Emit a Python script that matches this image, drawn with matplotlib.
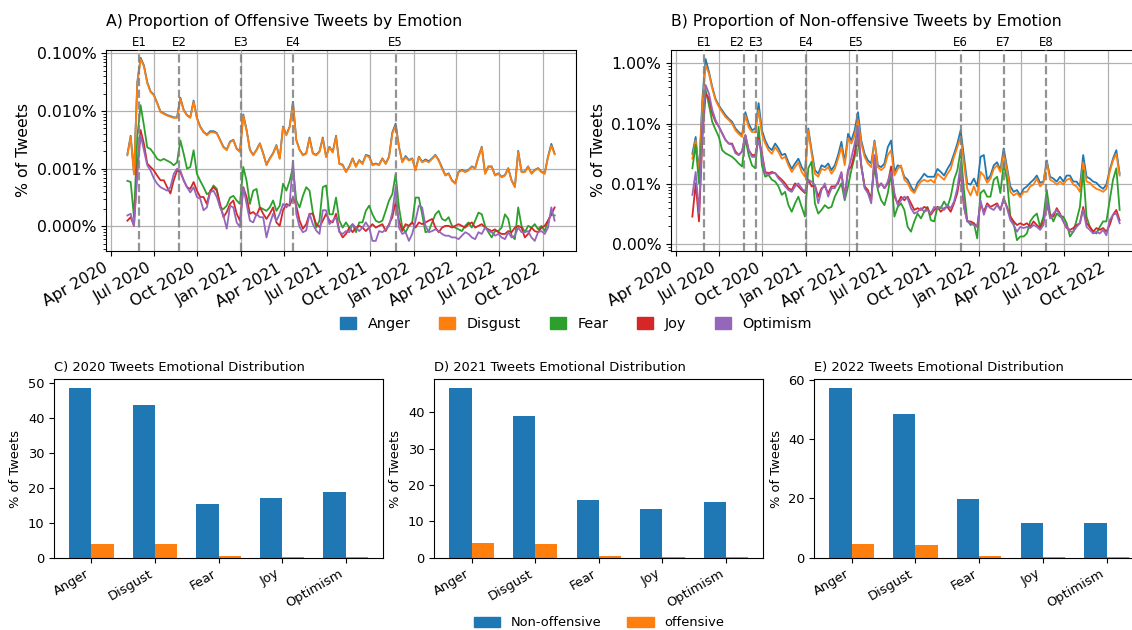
import numpy as np
import pandas as pd
import matplotlib
matplotlib.use("Agg")
import matplotlib.pyplot as plt
import matplotlib.dates as mdates
from matplotlib.ticker import FuncFormatter, NullFormatter
from matplotlib.patches import Patch

# ---------------------------------------------------------------- data
# Weekly samples of the smoothed daily share of tweets per emotion,
# stored as log10(percent of all tweets).
dates = pd.date_range("2020-05-06", periods=130, freq="7D")

emotions = ["Anger", "Disgust", "Fear", "Joy", "Optimism"]
colors = ["tab:blue", "tab:orange", "tab:green", "tab:red", "tab:purple"]

off_anger = [
    -2.75, -2.43, -3.08, -1.50, -1.08, -1.21, -1.50, -1.66, -1.72, -1.86,
    -2.01, -2.04, -2.07, -2.09, -2.11, -2.11, -1.77, -1.98, -2.07, -2.11,
    -1.82, -2.12, -2.27, -2.36, -2.41, -2.35, -2.35, -2.38, -2.50, -2.62,
    -2.67, -2.53, -2.50, -2.65, -2.70, -2.06, -2.33, -2.67, -2.76, -2.67,
    -2.56, -2.73, -2.93, -2.82, -2.73, -2.59, -2.82, -2.27, -2.41, -2.27,
    -1.84, -2.50, -2.67, -2.76, -2.73, -2.46, -2.73, -2.76, -2.70, -2.46,
    -2.79, -2.62, -2.71, -2.43, -2.91, -2.93, -3.05, -2.96, -2.82, -2.96,
    -2.85, -2.91, -2.76, -2.78, -2.93, -2.91, -2.93, -2.82, -2.91, -2.79,
    -2.37, -2.22, -2.62, -2.88, -2.78, -2.85, -2.82, -3.02, -2.79, -2.88,
    -2.84, -2.87, -2.82, -2.76, -2.85, -2.98, -3.11, -3.08, -3.20, -3.25,
    -3.05, -3.02, -3.05, -3.02, -2.96, -2.99, -2.79, -2.62, -3.08, -2.96,
    -2.96, -3.11, -3.08, -3.14, -3.11, -2.99, -3.20, -3.31, -2.69, -3.05,
    -3.05, -2.96, -3.08, -3.02, -2.99, -3.05, -3.08, -2.79, -2.57, -2.74,
]
off_disgust = [
    -2.77, -2.45, -3.10, -1.52, -1.10, -1.23, -1.52, -1.67, -1.73, -1.87,
    -2.02, -2.05, -2.08, -2.10, -2.12, -2.12, -1.79, -1.99, -2.08, -2.12,
    -1.84, -2.13, -2.28, -2.37, -2.42, -2.37, -2.37, -2.39, -2.51, -2.63,
    -2.68, -2.54, -2.51, -2.66, -2.71, -2.08, -2.34, -2.68, -2.77, -2.68,
    -2.57, -2.74, -2.94, -2.83, -2.74, -2.60, -2.83, -2.28, -2.42, -2.28,
    -1.87, -2.51, -2.68, -2.77, -2.74, -2.48, -2.74, -2.77, -2.71, -2.48,
    -2.80, -2.63, -2.72, -2.45, -2.92, -2.94, -3.06, -2.97, -2.83, -2.97,
    -2.86, -2.92, -2.77, -2.80, -2.94, -2.92, -2.94, -2.83, -2.92, -2.80,
    -2.39, -2.25, -2.63, -2.89, -2.80, -2.86, -2.83, -3.03, -2.80, -2.89,
    -2.86, -2.89, -2.83, -2.77, -2.86, -3.00, -3.12, -3.09, -3.21, -3.26,
    -3.06, -3.03, -3.06, -3.03, -2.97, -3.00, -2.80, -2.63, -3.09, -2.97,
    -2.97, -3.12, -3.09, -3.15, -3.12, -3.00, -3.21, -3.32, -2.71, -3.06,
    -3.06, -2.97, -3.09, -3.03, -3.00, -3.06, -3.09, -2.80, -2.60, -2.75,
]
off_fear = [
    -3.21, -3.23, -3.84, -2.45, -1.90, -2.25, -2.63, -2.66, -2.74, -2.83,
    -2.86, -2.83, -2.86, -2.89, -2.94, -2.89, -2.51, -2.74, -3.00, -2.97,
    -2.68, -3.09, -3.21, -3.32, -3.44, -3.41, -3.29, -3.35, -3.67, -3.70,
    -3.64, -3.50, -3.47, -3.55, -3.61, -2.97, -3.21, -3.61, -3.38, -3.35,
    -3.67, -3.70, -3.73, -3.67, -3.55, -3.73, -3.64, -3.26, -3.38, -3.21,
    -2.97, -3.55, -3.67, -3.47, -3.32, -3.38, -3.76, -4.02, -3.90, -3.32,
    -3.29, -3.79, -3.79, -3.50, -3.90, -4.02, -3.93, -4.02, -3.96, -4.10,
    -3.93, -3.93, -3.73, -3.64, -3.79, -3.90, -3.93, -3.90, -3.73, -3.55,
    -3.44, -3.09, -3.67, -4.02, -4.10, -3.99, -3.93, -3.50, -3.50, -3.79,
    -4.10, -4.08, -3.93, -3.79, -3.73, -3.87, -3.90, -3.84, -3.99, -4.02,
    -4.05, -4.08, -3.99, -3.93, -4.02, -3.90, -3.76, -3.79, -3.99, -4.10,
    -4.19, -4.08, -4.08, -4.02, -3.79, -3.87, -4.16, -4.22, -3.67, -3.99,
    -4.10, -3.99, -4.02, -3.96, -4.05, -3.99, -4.08, -3.90, -3.79, -3.81,
]
off_joy = [
    -3.90, -3.84, -3.99, -2.97, -2.33, -2.57, -2.91, -2.97, -3.03, -3.12,
    -3.20, -3.20, -3.32, -3.43, -3.20, -3.03, -3.06, -3.20, -3.32, -3.35,
    -3.23, -3.38, -3.49, -3.49, -3.61, -3.38, -3.32, -3.38, -3.61, -3.84,
    -3.75, -3.61, -3.55, -3.78, -3.90, -3.32, -3.49, -3.78, -3.75, -3.81,
    -3.67, -3.78, -3.87, -3.78, -3.67, -3.93, -3.99, -3.72, -3.61, -3.64,
    -3.49, -3.64, -3.90, -4.04, -3.96, -3.78, -3.78, -3.96, -4.01, -3.90,
    -3.78, -3.90, -3.93, -3.78, -4.08, -4.19, -4.13, -4.02, -4.10, -4.02,
    -3.99, -4.02, -4.08, -4.02, -3.96, -4.02, -3.99, -3.96, -4.08, -3.96,
    -3.84, -3.58, -3.90, -4.08, -3.96, -3.99, -3.93, -4.02, -3.93, -3.96,
    -3.93, -3.90, -3.87, -4.02, -4.10, -4.02, -3.99, -3.99, -4.02, -3.99,
    -3.96, -3.99, -4.02, -3.96, -3.93, -4.02, -3.99, -3.96, -4.02, -4.05,
    -4.08, -4.05, -4.10, -4.13, -4.13, -4.08, -4.10, -4.02, -3.99, -4.02,
    -4.19, -4.13, -4.02, -4.08, -4.10, -4.02, -3.99, -3.90, -3.79, -3.67,
]
off_optimism = [
    -3.81, -3.78, -3.99, -3.09, -2.42, -2.68, -2.94, -3.03, -3.17, -3.26,
    -3.32, -3.35, -3.38, -3.32, -3.09, -3.00, -3.03, -3.20, -3.32, -3.41,
    -3.32, -3.49, -3.52, -3.72, -3.67, -3.41, -3.38, -3.49, -3.67, -3.81,
    -4.04, -3.64, -3.67, -3.93, -4.01, -3.32, -3.61, -3.90, -3.93, -3.78,
    -3.84, -3.84, -4.19, -3.96, -3.78, -3.90, -3.78, -3.61, -3.67, -3.61,
    -2.86, -3.78, -4.01, -4.10, -4.07, -3.78, -3.96, -4.07, -4.13, -3.72,
    -3.72, -3.96, -3.90, -3.84, -4.10, -4.13, -4.08, -4.10, -3.96, -4.02,
    -4.08, -4.02, -3.93, -4.02, -4.25, -4.25, -4.08, -4.10, -4.05, -3.99,
    -3.76, -3.32, -4.02, -4.13, -4.10, -4.25, -4.13, -3.90, -3.64, -3.67,
    -3.99, -4.10, -4.08, -4.05, -4.08, -4.13, -4.16, -4.16, -4.19, -4.19,
    -4.22, -4.16, -4.10, -4.13, -4.19, -4.22, -4.10, -4.13, -4.02, -4.08,
    -4.10, -4.16, -4.13, -4.19, -4.22, -4.10, -4.19, -4.16, -4.02, -4.10,
    -4.10, -4.08, -4.19, -4.25, -4.10, -4.08, -4.13, -4.02, -3.67, -3.90,
]

non_anger = [
    -1.50, -1.22, -1.83, -0.61, 0.07, -0.14, -0.39, -0.59, -0.70, -0.78,
    -0.86, -0.92, -0.97, -1.08, -1.14, -1.19, -0.81, -1.00, -1.11, -1.08,
    -0.66, -1.11, -1.28, -1.39, -1.44, -1.33, -1.41, -1.52, -1.50, -1.64,
    -1.75, -1.66, -1.58, -1.72, -1.80, -1.08, -1.44, -1.77, -1.83, -1.69,
    -1.72, -1.66, -1.77, -1.69, -1.52, -1.30, -1.64, -1.17, -1.28, -1.11,
    -0.81, -1.28, -1.50, -1.61, -1.66, -1.28, -1.69, -1.72, -1.66, -1.39,
    -1.28, -1.80, -1.69, -1.72, -1.88, -1.93, -2.04, -2.13, -1.98, -1.91,
    -1.83, -1.88, -1.88, -1.88, -1.75, -1.80, -1.86, -1.75, -1.66, -1.50,
    -1.33, -1.11, -1.55, -1.99, -2.01, -1.91, -2.04, -1.55, -1.52, -1.93,
    -1.86, -1.69, -1.64, -1.77, -1.41, -1.72, -2.04, -2.13, -2.10, -2.19,
    -2.08, -2.04, -1.98, -1.93, -1.86, -1.98, -1.96, -1.61, -1.88, -1.91,
    -1.96, -1.88, -1.96, -1.86, -1.86, -1.96, -1.96, -2.04, -1.52, -1.88,
    -1.91, -1.96, -1.98, -2.04, -2.08, -2.01, -1.77, -1.58, -1.44, -1.83,
]
non_disgust = [
    -1.58, -1.28, -1.86, -0.72, -0.03, -0.17, -0.42, -0.61, -0.72, -0.81,
    -0.89, -0.94, -1.00, -1.11, -1.17, -1.22, -0.86, -1.06, -1.14, -1.14,
    -0.78, -1.17, -1.33, -1.44, -1.50, -1.39, -1.47, -1.58, -1.55, -1.69,
    -1.80, -1.72, -1.64, -1.80, -1.88, -1.11, -1.50, -1.83, -1.88, -1.75,
    -1.77, -1.72, -1.83, -1.75, -1.58, -1.39, -1.69, -1.25, -1.33, -1.19,
    -0.94, -1.33, -1.55, -1.66, -1.72, -1.30, -1.72, -1.77, -1.72, -1.52,
    -1.44, -1.86, -1.75, -1.69, -1.93, -1.98, -2.10, -2.15, -2.04, -1.96,
    -1.93, -1.96, -1.93, -1.98, -1.83, -1.88, -1.93, -1.83, -1.75, -1.55,
    -1.39, -1.22, -1.66, -2.08, -2.19, -2.04, -2.19, -1.80, -1.86, -1.98,
    -1.91, -1.75, -1.69, -1.80, -1.50, -1.77, -2.13, -2.19, -2.15, -2.22,
    -2.13, -2.13, -2.04, -2.01, -1.91, -2.04, -1.98, -1.64, -1.93, -1.96,
    -2.01, -1.96, -2.01, -1.93, -1.91, -2.01, -2.04, -2.13, -1.64, -1.96,
    -1.98, -2.04, -2.08, -2.10, -2.13, -2.08, -1.80, -1.61, -1.50, -1.86,
]
non_fear = [
    -1.74, -1.35, -1.99, -1.05, -0.44, -0.69, -0.97, -1.10, -1.22, -1.44,
    -1.49, -1.52, -1.55, -1.60, -1.66, -1.71, -1.24, -1.52, -1.69, -1.74,
    -1.05, -1.69, -1.88, -1.85, -1.93, -1.96, -2.04, -2.18, -2.13, -2.35,
    -2.46, -2.32, -2.21, -2.38, -2.54, -1.74, -1.63, -2.32, -2.49, -2.43,
    -2.35, -2.40, -2.38, -2.21, -2.10, -1.99, -2.27, -2.04, -1.77, -1.55,
    -1.27, -1.69, -2.04, -2.15, -2.21, -1.71, -2.10, -2.27, -2.35, -2.15,
    -1.82, -2.54, -2.38, -2.32, -2.43, -2.71, -2.79, -2.62, -2.49, -2.57,
    -2.46, -2.38, -2.60, -2.62, -2.38, -2.40, -2.29, -2.38, -2.21, -1.93,
    -1.77, -1.44, -2.10, -2.60, -2.68, -2.65, -2.90, -2.15, -2.10, -2.21,
    -2.21, -1.93, -1.88, -2.15, -1.66, -1.93, -2.54, -2.65, -2.93, -2.87,
    -2.87, -2.82, -2.62, -2.54, -2.49, -2.71, -2.54, -2.10, -2.49, -2.62,
    -2.49, -2.54, -2.54, -2.65, -2.87, -2.79, -2.60, -2.38, -1.77, -2.54,
    -2.71, -2.79, -2.82, -2.71, -2.62, -2.62, -2.27, -1.93, -1.74, -2.43,
]
non_joy = [
    -2.54, -1.99, -2.62, -1.27, -0.50, -0.58, -0.83, -0.97, -1.05, -1.16,
    -1.27, -1.33, -1.33, -1.46, -1.52, -1.46, -1.19, -1.44, -1.52, -1.52,
    -1.24, -1.49, -1.80, -1.82, -1.80, -1.82, -1.88, -1.93, -1.99, -2.07,
    -2.10, -1.99, -2.04, -2.10, -2.15, -1.93, -2.04, -2.02, -2.21, -2.07,
    -2.04, -2.15, -2.04, -2.04, -1.99, -1.82, -2.21, -1.77, -1.71, -1.49,
    -1.10, -1.71, -2.04, -2.10, -2.27, -1.55, -2.04, -1.99, -2.07, -1.99,
    -1.71, -2.21, -2.32, -2.21, -2.27, -2.21, -2.32, -2.43, -2.40, -2.43,
    -2.38, -2.40, -2.51, -2.43, -2.38, -2.46, -2.40, -2.38, -2.46, -2.32,
    -2.15, -1.82, -2.38, -2.62, -2.62, -2.65, -2.71, -2.32, -2.46, -2.32,
    -2.38, -2.35, -2.32, -2.43, -2.24, -2.38, -2.54, -2.62, -2.68, -2.65,
    -2.68, -2.65, -2.71, -2.62, -2.68, -2.73, -2.62, -2.35, -2.51, -2.54,
    -2.40, -2.49, -2.62, -2.73, -2.76, -2.73, -2.68, -2.65, -2.38, -2.65,
    -2.71, -2.79, -2.73, -2.76, -2.73, -2.79, -2.68, -2.51, -2.43, -2.60,
]
non_optimism = [
    -2.18, -1.80, -2.49, -1.16, -0.36, -0.50, -0.77, -0.94, -1.05, -1.16,
    -1.27, -1.33, -1.35, -1.49, -1.52, -1.46, -1.19, -1.44, -1.55, -1.55,
    -1.27, -1.52, -1.82, -1.85, -1.82, -1.82, -1.91, -1.96, -2.04, -2.10,
    -2.13, -2.04, -1.99, -2.07, -2.13, -1.93, -1.96, -2.02, -2.32, -2.10,
    -1.99, -2.21, -2.07, -2.07, -1.96, -1.80, -2.24, -1.77, -1.57, -1.33,
    -1.05, -1.69, -2.07, -2.15, -2.32, -1.52, -2.07, -1.99, -2.07, -1.96,
    -1.80, -2.15, -2.35, -2.27, -2.21, -2.24, -2.40, -2.49, -2.46, -2.40,
    -2.46, -2.43, -2.49, -2.38, -2.40, -2.38, -2.43, -2.35, -2.40, -2.29,
    -2.07, -1.66, -2.38, -2.62, -2.65, -2.68, -2.71, -2.27, -2.51, -2.35,
    -2.40, -2.43, -2.35, -2.43, -2.24, -2.40, -2.60, -2.68, -2.79, -2.71,
    -2.73, -2.71, -2.73, -2.68, -2.71, -2.76, -2.68, -2.27, -2.57, -2.49,
    -2.43, -2.51, -2.62, -2.71, -2.79, -2.79, -2.71, -2.65, -2.43, -2.71,
    -2.76, -2.82, -2.79, -2.82, -2.76, -2.85, -2.60, -2.51, -2.49, -2.65,
]

# Event markers
events_off = ["2020-05-31", "2020-08-24", "2021-01-02", "2021-04-21", "2021-11-24"]
events_non = ["2020-05-31", "2020-08-24", "2020-09-17", "2021-01-01",
              "2021-04-18", "2021-11-24", "2022-02-23", "2022-05-24"]

# Yearly emotional distribution (% of tweets)
non_2020 = [48.7, 43.8, 15.3, 17.0, 18.7]
off_2020 = [3.9, 3.9, 0.5, 0.15, 0.15]
non_2021 = [46.7, 39.0, 15.8, 13.3, 15.2]
off_2021 = [4.0, 3.7, 0.4, 0.15, 0.15]
non_2022 = [57.4, 48.4, 19.8, 11.7, 11.7]
off_2022 = [4.6, 4.3, 0.6, 0.15, 0.15]

# ---------------------------------------------------------------- figure
W, H = 1132, 630
fig = plt.figure(figsize=(W / 100, H / 100), dpi=100)


def px_axes(left, top, right, bottom):
    return fig.add_axes([left / W, 1 - bottom / H, (right - left) / W, (bottom - top) / H])


BIG = 11.3
SMALL = 9.4


def time_panel(ax, series, events, title, decimals, ylog, label_ha=None):
    for name, vals, c in zip(emotions, series, colors):
        ax.plot(dates, 10.0 ** np.asarray(vals), color=c, lw=1.3, label=name)
    ax.set_yscale("log")
    ax.set_ylim(10.0 ** ylog[0], 10.0 ** ylog[1])
    ax.yaxis.set_major_formatter(FuncFormatter(lambda v, p: f"{v:.{decimals}f}%"))
    ax.yaxis.set_minor_formatter(NullFormatter())
    ax.xaxis.set_major_locator(mdates.MonthLocator(bymonth=[1, 4, 7, 10]))
    ax.xaxis.set_major_formatter(mdates.DateFormatter("%b %Y"))
    ax.grid(True, which="major", color="#b0b0b0", lw=0.9)
    ax.set_axisbelow(True)
    if label_ha is None:
        label_ha = ["center"] * len(events)
    for i, (d, ha) in enumerate(zip(events, label_ha)):
        dt = pd.Timestamp(d)
        ax.axvline(dt, color="gray", ls="--", lw=1.6, alpha=0.85, zorder=3)
        ax.text(dt, 1.005, f"E{i + 1}", transform=ax.get_xaxis_transform(),
                ha=ha, va="bottom", fontsize=8.5)
    ax.tick_params(labelsize=BIG)
    for lab in ax.get_xticklabels():
        lab.set_rotation(30)
        lab.set_ha("right")
    ax.set_ylabel("% of Tweets", fontsize=BIG)
    ax.set_title(title, loc="left", fontsize=BIG, pad=17)


axA = px_axes(106, 50, 576, 250.7)
time_panel(axA, [off_anger, off_disgust, off_fear, off_joy, off_optimism],
           events_off, "A) Proportion of Offensive Tweets by Emotion", 3, (-4.42, -0.944))

axB = px_axes(671, 50, 1141, 250.7)
time_panel(axB, [non_anger, non_disgust, non_fear, non_joy, non_optimism],
           events_non, "B) Proportion of Non-offensive Tweets by Emotion", 2, (-3.105, 0.22),
           label_ha=["center", "right", "center", "center",
                     "center", "center", "center", "center"])

fig.legend(handles=[Patch(color=c, label=e) for e, c in zip(emotions, colors)],
           loc="center", bbox_to_anchor=(576 / W, 1 - 324 / H), ncol=5,
           frameon=False, fontsize=10.4, handlelength=1.1, handleheight=0.85)


def bar_panel(ax, non, off, title):
    x = np.arange(len(emotions))
    w = 0.35
    ax.bar(x - w / 2, non, w, color="tab:blue", label="Non-offensive")
    ax.bar(x + w / 2, off, w, color="tab:orange", label="offensive")
    ax.set_xticks(x)
    ax.set_xticklabels(emotions, rotation=30, ha="right")
    ax.tick_params(labelsize=SMALL)
    ax.set_ylabel("% of Tweets", fontsize=SMALL)
    ax.set_title(title, loc="left", fontsize=SMALL)


axC = px_axes(54.3, 379.3, 382.7, 557.7)
bar_panel(axC, non_2020, off_2020, "C) 2020 Tweets Emotional Distribution")
axD = px_axes(434.3, 379.3, 763.3, 557.7)
bar_panel(axD, non_2021, off_2021, "D) 2021 Tweets Emotional Distribution")
axE = px_axes(814.3, 379.3, 1144, 557.7)
bar_panel(axE, non_2022, off_2022, "E) 2022 Tweets Emotional Distribution")

fig.legend(handles=[Patch(color="tab:blue", label="Non-offensive"),
                    Patch(color="tab:orange", label="offensive")],
           loc="center", bbox_to_anchor=(599 / W, 1 - 623 / H), ncol=2,
           frameon=False, fontsize=SMALL, columnspacing=2.0)

fig.savefig("out.png", dpi=100)
